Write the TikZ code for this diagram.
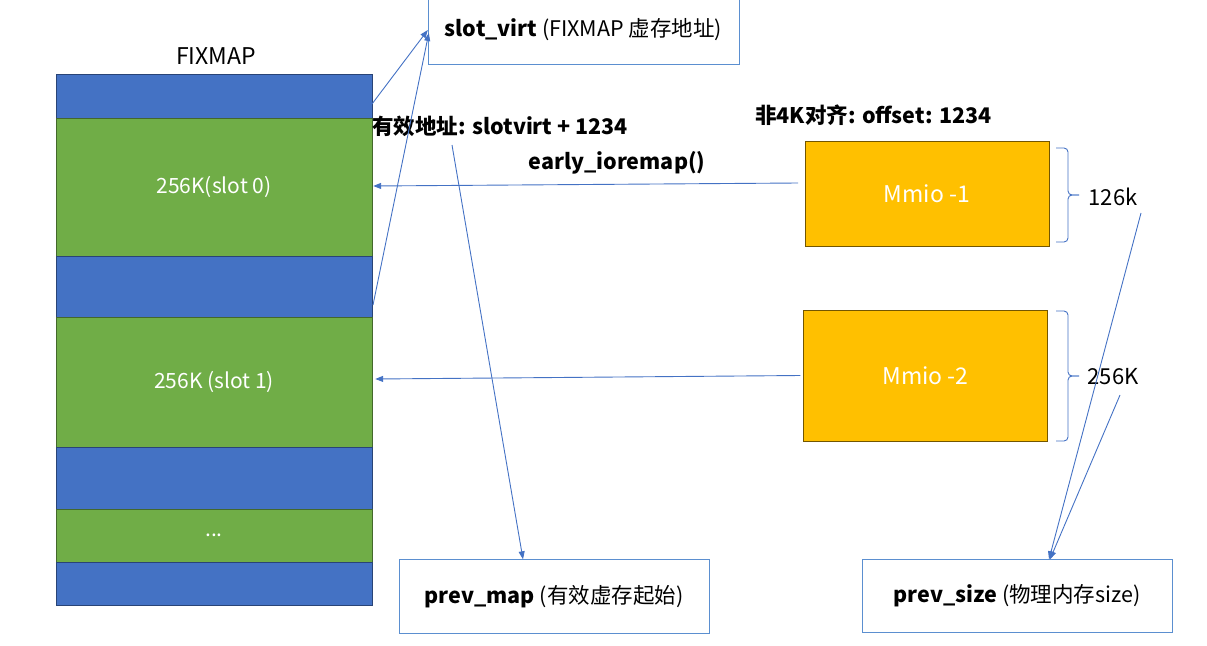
\documentclass[tikz,border=0pt]{standalone}
\usepackage{fontspec}
\setmainfont{Noto Sans CJK SC}
\usetikzlibrary{calc,arrows.meta}
\definecolor{rowblue}{HTML}{4472C4}
\definecolor{rowgreen}{HTML}{70AD47}
\definecolor{mmiofill}{HTML}{FFC000}
\definecolor{boxline}{HTML}{5B8FD0}
\tikzset{
	slotrow/.style={draw=#1!60!black, fill=#1, minimum width=316pt, inner sep=0pt, font=\fontsize{21}{24}\selectfont, text=white},
	mmiobox/.style={draw=mmiofill!45!black, fill=mmiofill, minimum width=244pt, inner sep=0pt, font=\fontsize{23}{26}\selectfont, text=white},
	infobox/.style={draw=boxline, minimum width=310pt, inner sep=0pt, font=\fontsize{21.5}{24}\selectfont},
	note/.style={font=\bfseries\fontsize{21.5}{24}\selectfont, inner sep=0pt},
	plain/.style={font=\fontsize{22}{25}\selectfont, inner sep=0pt},
	link/.style={draw=rowblue, line width=0.9pt, -{Triangle[length=8pt,width=6pt]}},
	brace/.style={draw=rowblue, line width=0.9pt, rounded corners=4pt}
}

\begin{document}
\begin{tikzpicture}[x=1pt, y=-1pt]
	%%%%% START %%%%%
	\useasboundingbox (0, 0) rectangle (1207, 645);

	% FIXMAP column
	\node[plain, font=\fontsize{23}{26}\selectfont] (fixmap) at (216, 56) {FIXMAP};
	\node[slotrow=rowblue, minimum height=44pt] (blue0) at (214, 96) {};
	\node[slotrow=rowgreen, minimum height=138pt] (slot0) at (214, 187) {256K(slot 0)};
	\node[slotrow=rowblue, minimum height=61pt] (blue1) at (214, 286.5) {};
	\node[slotrow=rowgreen, minimum height=130pt] (slot1) at (214, 382) {256K (slot 1)};
	\node[slotrow=rowblue, minimum height=62pt] (blue2) at (214, 478) {};
	\node[slotrow=rowgreen, minimum height=53pt] (dots) at (214, 535.5) {...};
	\node[slotrow=rowblue, minimum height=43pt] (blue3) at (214, 583.5) {};

	% boxes
	\node[infobox, minimum height=68pt, minimum width=311pt] (virt) at (583.5, 30) {\textbf{slot\_virt} (FIXMAP 虚存地址)};
	\node[infobox, minimum height=74pt] (pmap) at (554, 596.5) {\textbf{prev\_map} (有效虚存起始)};
	\node[infobox, minimum height=73pt] (psize) at (1017, 596) {\textbf{prev\_size} (物理内存size)};
	\node[mmiobox, minimum height=105pt] (mmio1) at (927, 193.5) {Mmio -1};
	\node[mmiobox, minimum height=131pt] (mmio2) at (925.5, 375.5) {Mmio -2};

	% labels
	\node[note, anchor=west] (addr) at (372, 126) {有效地址: slotvirt + 1234};
	\node[note, anchor=west] (offset) at (755, 115) {非4K对齐: offset: 1234};
	\node[note] (ioremap) at (617, 163) {early\_ioremap()};
	\node[plain] (size1) at (1113, 197) {126k};
	\node[plain] (size2) at (1113, 377) {256K};

	% braces
	\draw[brace] (1056, 148) -| (1068, 195) -- (1079, 195);
	\draw[brace] (1079, 195) -- (1068, 195) |- (1056, 242);
	\draw[brace] (1056, 311) -| (1068, 376) -- (1079, 376);
	\draw[brace] (1079, 376) -- (1068, 376) |- (1056, 441);

	% free ends
	\coordinate (v0) at (372, 104);
	\coordinate (v1) at (373, 305);
	\coordinate (a0) at (452, 145);
	\coordinate (m1) at (798, 183);
	\coordinate (s1) at (1141, 213);
	\coordinate (s2) at (1120, 395);

	% connectors
	\draw[link] (v0) -- (virt.west);
	\draw[link] (v1) -- ($(virt.west)+(1, 3)$);
	\draw[link] (a0) -- ($(pmap.north)+(-31, 0)$);
	\draw[link] (m1) -- ($(slot0.east)+(1, -1)$);
	\draw[link] ($(mmio2.west)+(-3, 0)$) -- ($(slot1.east)+(3, -3)$);
	\draw[link] (s1) -- ($(psize.north)+(32, 0)$);
	\draw[link] (s2) -- ($(psize.north)+(33, 0)$);
	%%%%% END %%%%%
\end{tikzpicture}
\end{document}
